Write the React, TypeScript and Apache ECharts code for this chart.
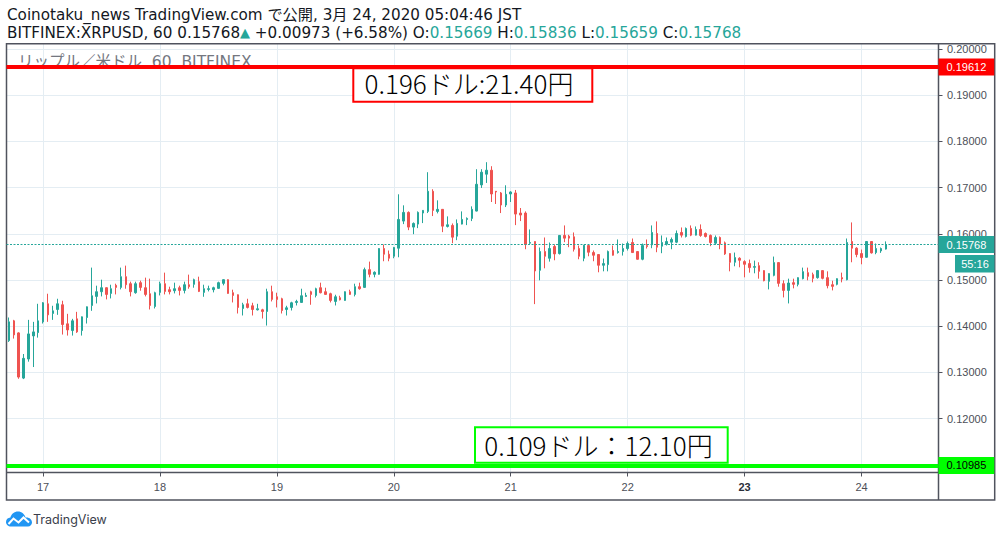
import React, { useEffect, useRef } from "react";
import * as echarts from "echarts";

// ---- data (hourly candles, BITFINEX:XRPUSD 60, Mar 16 17:00 .. Mar 24 05:00 JST) ----
const opens = [
  0.13688, 0.14116, 0.13855, 0.12877, 0.1329, 0.1379, 0.13862, 0.14094, 0.14485, 0.14275,
  0.14362, 0.14464, 0.14051, 0.13906, 0.14159, 0.13906, 0.14188, 0.14449, 0.14645, 0.14746,
  0.14833, 0.1471, 0.14884, 0.1484, 0.15072, 0.1492, 0.14725, 0.14942, 0.14833, 0.14703,
  0.14427, 0.14732, 0.1492, 0.1479, 0.14768, 0.14833, 0.14775, 0.14898, 0.14906, 0.14964,
  0.14732, 0.14797, 0.1479, 0.14819, 0.14927, 0.15007, 0.14725, 0.14681, 0.14384, 0.14485,
  0.14442, 0.14355, 0.14355, 0.14319, 0.14746, 0.14637, 0.14594, 0.14362, 0.14406, 0.14514,
  0.14514, 0.14645, 0.14746, 0.14666, 0.14833, 0.14746, 0.14703, 0.14536, 0.14616, 0.14558,
  0.14746, 0.14688, 0.14855, 0.1484, 0.15224, 0.15123, 0.15123, 0.15681, 0.15558, 0.15514,
  0.15688, 0.16275, 0.16463, 0.16145, 0.1621, 0.16449, 0.16485, 0.1692, 0.16485, 0.16529,
  0.16159, 0.16181, 0.15949, 0.1621, 0.16311, 0.16333, 0.16492, 0.17058, 0.1729, 0.17376,
  0.1692, 0.16884, 0.16623, 0.16862, 0.16884, 0.16449, 0.16449, 0.15797, 0.15833, 0.1521,
  0.15616, 0.15471, 0.15724, 0.15572, 0.15964, 0.15949, 0.15935, 0.15681, 0.15471, 0.15746,
  0.15594, 0.15551, 0.15319, 0.15333, 0.15638, 0.15594, 0.15616, 0.15681, 0.15811, 0.15616,
  0.15449, 0.15746, 0.15761, 0.16007, 0.15732, 0.15775, 0.15819, 0.15819, 0.16029, 0.15942,
  0.16116, 0.15971, 0.16094, 0.16007, 0.15964, 0.15797, 0.1592, 0.15804, 0.15572, 0.15384,
  0.15471, 0.15398, 0.15355, 0.15275, 0.15311, 0.15203, 0.14971, 0.15101, 0.15377, 0.1492,
  0.14775, 0.14942, 0.14906, 0.15029, 0.15159, 0.15116, 0.15051, 0.15203, 0.15051, 0.14898,
  0.14906, 0.15051, 0.15007, 0.15833, 0.15688, 0.15572, 0.15492, 0.15833, 0.15594, 0.1563,
  0.15669,
];
const closes = [
  0.14094, 0.13812, 0.12899, 0.13304, 0.13833, 0.13877, 0.14116, 0.14507, 0.14246, 0.14333,
  0.14485, 0.14036, 0.1392, 0.14116, 0.13877, 0.14203, 0.1442, 0.14659, 0.14746, 0.14833,
  0.14688, 0.14811, 0.1484, 0.15072, 0.14898, 0.14746, 0.1492, 0.1484, 0.14688, 0.14449,
  0.14725, 0.1492, 0.14753, 0.14746, 0.14811, 0.14775, 0.14898, 0.14855, 0.15007, 0.14753,
  0.14811, 0.14811, 0.14833, 0.14942, 0.15007, 0.1471, 0.14666, 0.14406, 0.14464, 0.14406,
  0.14362, 0.14377, 0.14319, 0.14746, 0.1458, 0.1458, 0.1434, 0.14398, 0.14507, 0.14536,
  0.14659, 0.14666, 0.14688, 0.14811, 0.14725, 0.14688, 0.14558, 0.14637, 0.14572, 0.14746,
  0.14688, 0.14855, 0.14811, 0.15224, 0.15123, 0.15167, 0.15681, 0.15558, 0.15471, 0.15703,
  0.16311, 0.16463, 0.16145, 0.16224, 0.16463, 0.16507, 0.1692, 0.16507, 0.16529, 0.16166,
  0.16195, 0.15927, 0.16224, 0.16311, 0.16333, 0.16529, 0.17072, 0.17333, 0.17376, 0.16862,
  0.16905, 0.16623, 0.16855, 0.16905, 0.16427, 0.16406, 0.15768, 0.15811, 0.15196, 0.15616,
  0.15514, 0.15681, 0.15565, 0.15964, 0.15906, 0.15906, 0.15666, 0.15514, 0.15753, 0.15601,
  0.15536, 0.15319, 0.15355, 0.15616, 0.15536, 0.15616, 0.15681, 0.1579, 0.15594, 0.15449,
  0.15746, 0.15724, 0.16029, 0.1571, 0.15811, 0.15833, 0.15877, 0.16007, 0.15971, 0.16116,
  0.15971, 0.16094, 0.15964, 0.15942, 0.15811, 0.1592, 0.15782, 0.15565, 0.15384, 0.15485,
  0.15427, 0.1534, 0.15268, 0.1529, 0.15188, 0.14985, 0.15138, 0.15377, 0.14927, 0.14775,
  0.14935, 0.14906, 0.15051, 0.15181, 0.1508, 0.15036, 0.15203, 0.15036, 0.14877, 0.14862,
  0.15029, 0.15022, 0.15811, 0.15688, 0.15551, 0.15485, 0.15833, 0.15587, 0.15681, 0.15681,
  0.15768,
];
const lows = [
  0.13659, 0.13732, 0.12862, 0.12855, 0.13232, 0.13116, 0.13753, 0.14058, 0.14094, 0.14137,
  0.14246, 0.13819, 0.13797, 0.13797, 0.13855, 0.13797, 0.14058, 0.14333, 0.14493, 0.14645,
  0.1458, 0.14601, 0.14688, 0.14797, 0.14811, 0.14645, 0.14703, 0.14768, 0.14645, 0.14362,
  0.14384, 0.14666, 0.14688, 0.14688, 0.1471, 0.14666, 0.1471, 0.14811, 0.14833, 0.14739,
  0.14637, 0.14753, 0.14732, 0.14811, 0.14884, 0.14703, 0.14514, 0.14275, 0.14232, 0.14384,
  0.14232, 0.1434, 0.14166, 0.14014, 0.14536, 0.14406, 0.14275, 0.14232, 0.1434, 0.14449,
  0.14507, 0.14637, 0.14464, 0.14623, 0.1471, 0.14681, 0.14514, 0.14449, 0.14558, 0.14551,
  0.14681, 0.14645, 0.1479, 0.14833, 0.15058, 0.15058, 0.15116, 0.15406, 0.15406, 0.15471,
  0.15492, 0.1621, 0.16079, 0.15992, 0.16123, 0.16232, 0.16449, 0.16384, 0.16442, 0.16036,
  0.16137, 0.15797, 0.15862, 0.16203, 0.16188, 0.16275, 0.16485, 0.16992, 0.17101, 0.16688,
  0.16645, 0.16449, 0.16579, 0.16688, 0.16188, 0.16275, 0.15666, 0.15782, 0.14478, 0.14993,
  0.15253, 0.15398, 0.15427, 0.15551, 0.15819, 0.1571, 0.15616, 0.15449, 0.15406, 0.15514,
  0.15406, 0.15167, 0.15188, 0.15188, 0.15529, 0.15572, 0.15529, 0.15638, 0.15587, 0.15442,
  0.15427, 0.15681, 0.15688, 0.15601, 0.1558, 0.15746, 0.15666, 0.15797, 0.1592, 0.1592,
  0.15949, 0.15964, 0.15935, 0.1592, 0.15732, 0.15761, 0.15666, 0.15543, 0.15188, 0.15297,
  0.15275, 0.15058, 0.15159, 0.15145, 0.15029, 0.14971, 0.14797, 0.1508, 0.14855, 0.14623,
  0.14493, 0.14819, 0.14862, 0.15014, 0.14993, 0.14949, 0.15029, 0.15014, 0.14819, 0.14775,
  0.14884, 0.14949, 0.14993, 0.15384, 0.15492, 0.1534, 0.15485, 0.15572, 0.15558, 0.15587,
  0.15659,
];
const highs = [
  0.14188, 0.14137, 0.13869, 0.13398, 0.14137, 0.14094, 0.14485, 0.14522, 0.14703, 0.14442,
  0.14594, 0.14551, 0.14268, 0.14159, 0.14311, 0.1421, 0.14427, 0.15268, 0.14877, 0.15007,
  0.1484, 0.14898, 0.1492, 0.15268, 0.15311, 0.14964, 0.14964, 0.14985, 0.15051, 0.15029,
  0.14746, 0.14964, 0.15159, 0.14855, 0.14942, 0.14877, 0.14964, 0.15116, 0.15029, 0.15072,
  0.14898, 0.14877, 0.14855, 0.14964, 0.15014, 0.15014, 0.1479, 0.14688, 0.14507, 0.14594,
  0.14507, 0.14485, 0.14377, 0.14811, 0.14877, 0.14725, 0.14616, 0.14442, 0.14529, 0.14572,
  0.14811, 0.14725, 0.14768, 0.14833, 0.14942, 0.14833, 0.14725, 0.14681, 0.14659, 0.14753,
  0.1479, 0.1492, 0.14942, 0.15268, 0.15398, 0.15188, 0.15688, 0.15768, 0.15638, 0.15717,
  0.16855, 0.16616, 0.16485, 0.16246, 0.16485, 0.16514, 0.17333, 0.16964, 0.16724, 0.16536,
  0.16377, 0.16224, 0.16311, 0.16485, 0.16355, 0.16594, 0.17398, 0.17398, 0.1755, 0.17463,
  0.16927, 0.16905, 0.1705, 0.1692, 0.16949, 0.16558, 0.16485, 0.16094, 0.1584, 0.15703,
  0.1592, 0.15811, 0.15768, 0.15971, 0.16181, 0.15978, 0.16029, 0.15746, 0.15761, 0.15753,
  0.15638, 0.15558, 0.15464, 0.15638, 0.15746, 0.15877, 0.1579, 0.15833, 0.15898, 0.15623,
  0.1579, 0.15877, 0.16181, 0.16268, 0.15964, 0.1592, 0.1592, 0.16072, 0.16137, 0.16137,
  0.16181, 0.16159, 0.16203, 0.16029, 0.15985, 0.15964, 0.15942, 0.15833, 0.1558, 0.15594,
  0.15492, 0.15427, 0.15442, 0.1542, 0.15384, 0.1521, 0.15145, 0.15507, 0.15384, 0.14993,
  0.15029, 0.15029, 0.15058, 0.15268, 0.15268, 0.15159, 0.1521, 0.1521, 0.15188, 0.14985,
  0.15036, 0.15159, 0.15898, 0.16246, 0.1571, 0.15659, 0.1584, 0.1584, 0.1579, 0.15703,
  0.15836,
];

const dayLabels = ["17", "18", "19", "20", "21", "22", "23", "24"];
const dayStartCandle = [7, 31, 55, 79, 103, 127, 151, 175];
const weekStartDay = "23";
const priceGridLevels = [0.11, 0.12, 0.13, 0.14, 0.15, 0.16, 0.17, 0.18, 0.19, 0.2];
const priceTickLabels = [0.12, 0.13, 0.14, 0.15, 0.16, 0.17, 0.18, 0.19, 0.2];
const resistanceLevel = 0.19612;
const supportLevel = 0.10985;
const resistanceNote = "0.196ドル:21.40円";
const supportNote = "0.109ドル：12.10円";
const countdownText = "55:16";
const publishLine = "Coinotaku_news TradingView.com で公開, 3月 24, 2020 05:04:46 JST";
const symbolText = "BITFINEX:XRPUSD, 60";
const changeText = "+0.00973 (+6.58%)";
const paneTitle = "リップル／米ドル, 60, BITFINEX";
const brandText = "TradingView";

// ---- layout / style ----
const W = 1002;
const H = 537;
const PLOT_L = 6.5;
const PLOT_R = 938.5;
const PLOT_T = 44;
const PLOT_B = 472.5;
const FRAME_R = 994.7;
const FRAME_B = 500;
const X_MIN = -0.5;
const X_MAX = 190.8;
const Y_MIN = 0.108333;
const Y_MAX = 0.201082;

const UP = "#26a69a";
const DOWN = "#ef5350";
const RED = "#ff0000";
const LIME = "#00ff00";
const GRID = "#e4edf3";
const FRAME = "#50535e";
const AXIS_TEXT = "#4c4f58";
const FONT_UI = '"DejaVu Sans", "Noto Sans CJK JP", sans-serif';
const FONT_BRAND = 'Inter, "Noto Sans CJK JP", sans-serif';
const FONT_AXIS = '"Liberation Sans", Arial, sans-serif';
const FONT_NOTE = '"Noto Sans CJK JP", sans-serif';

const LOGO_D =
  "M5 15C2.2 15 0 12.9 0 10.4C0 8 1.9 6.1 4.4 6C5.2 2.6 8.3 0 12 0C15.7 0 18.8 2.6 19.5 6.1C19.9 6 20.3 6 20.7 6C23.6 6 26 8.3 26 11C26 13.2 24.2 15 22 15Z";
echarts.graphic.registerShape("tvLogo", echarts.graphic.extendPath(LOGO_D, {}));

const last = closes.length - 1;
const lastPrice = closes[last];

function buildOption(): any {
  const labelBase = {
    show: true,
    position: "end",
    distance: 0,
    fontSize: 11,
    fontFamily: FONT_AXIS,
    lineHeight: 12,
    padding: [3, 8, 2, 8],
  };
  return {
    animation: false,
    backgroundColor: "#ffffff",
    textStyle: { fontFamily: FONT_AXIS },
    grid: {
      left: PLOT_L,
      right: W - PLOT_R,
      top: PLOT_T,
      bottom: H - PLOT_B,
      containLabel: false,
      outerBoundsMode: "none",
    },
    xAxis: {
      type: "value",
      min: X_MIN,
      max: X_MAX,
      axisLine: { show: false, onZero: false },
      axisTick: {
        show: true,
        customValues: dayStartCandle,
        length: 4,
        lineStyle: { color: FRAME, width: 1 },
      },
      axisLabel: {
        customValues: dayStartCandle,
        margin: 9,
        fontSize: 11,
        color: AXIS_TEXT,
        fontFamily: FONT_AXIS,
        formatter: (v: number) => {
          const t = dayLabels[dayStartCandle.indexOf(v)] ?? "";
          return t === weekStartDay ? `{b|${t}}` : t;
        },
        rich: { b: { fontWeight: "bold", fontSize: 11, color: "#2a2e39", fontFamily: FONT_AXIS } },
      },
      splitLine: { show: true, lineStyle: { color: GRID, width: 1 } },
    },
    yAxis: {
      type: "value",
      position: "right",
      min: Y_MIN,
      max: Y_MAX,
      axisLine: { show: false, onZero: false },
      axisTick: {
        show: true,
        customValues: priceGridLevels,
        length: 4,
        lineStyle: { color: FRAME, width: 1 },
      },
      axisLabel: {
        customValues: priceTickLabels,
        margin: 8.5,
        fontSize: 11,
        color: AXIS_TEXT,
        fontFamily: FONT_AXIS,
        formatter: (v: number) => v.toFixed(5),
      },
      splitLine: { show: true, lineStyle: { color: GRID, width: 1 } },
    },
    series: [
      {
        type: "candlestick",
        data: opens.map((o, i) => [i, o, closes[i], lows[i], highs[i]]),
        encode: { x: 0, y: [1, 2, 3, 4] },
        barWidth: 2,
        clip: false,
        itemStyle: {
          color: UP,
          color0: DOWN,
          borderColor: UP,
          borderColor0: DOWN,
          borderWidth: 1,
        },
        markLine: {
          silent: true,
          animation: false,
          precision: 5,
          symbol: ["none", "none"],
          data: [
            {
              yAxis: resistanceLevel,
              lineStyle: { color: RED, width: 4, type: "solid" },
              label: { ...labelBase, formatter: resistanceLevel.toFixed(5), color: "#ffffff", backgroundColor: RED },
            },
            {
              yAxis: lastPrice,
              lineStyle: { color: UP, width: 1, type: [2, 1.5] },
              label: { ...labelBase, formatter: lastPrice.toFixed(5), color: "#ffffff", backgroundColor: UP },
            },
            {
              yAxis: supportLevel,
              lineStyle: { color: LIME, width: 4, type: "solid" },
              label: { ...labelBase, formatter: supportLevel.toFixed(5), color: "#000000", backgroundColor: LIME },
            },
          ],
        },
      },
    ],
  };
}

function buildGraphics(yRes: number, ySup: number, yLast: number): any[] {
  const o = opens[last].toFixed(5);
  const h = highs[last].toFixed(5);
  const l = lows[last].toFixed(5);
  const c = closes[last].toFixed(5);
  const FS = 15.2;
  const tk = { fill: "#131722", fontSize: FS, fontFamily: FONT_UI, lineHeight: 15 };
  const tv = { fill: UP, fontSize: FS, fontFamily: FONT_UI, lineHeight: 15 };
  return [
    // header
    {
      type: "text",
      x: 7,
      y: 14.5,
      silent: true,
      style: {
        text: publishLine,
        fill: "#131722",
        fontSize: FS,
        lineHeight: 15,
        fontFamily: FONT_UI,
        verticalAlign: "middle",
      },
    },
    {
      type: "text",
      x: 7,
      y: 32.5,
      silent: true,
      style: {
        text:
          `{k|${symbolText} ${c}}{u|▲}{k| ${changeText} O:}{v|${o}}` +
          `{k| H:}{v|${h}}{k| L:}{v|${l}}{k| C:}{v|${c}}`,
        fontSize: FS,
        lineHeight: 15,
        fontFamily: FONT_UI,
        verticalAlign: "middle",
        rich: { k: tk, v: tv, u: { fill: UP, fontSize: 13, lineHeight: 15, fontFamily: FONT_UI } },
      },
    },
    // pane title
    {
      type: "text",
      x: 18,
      y: 62,
      z: 1,
      silent: true,
      style: { text: paneTitle, fill: "#74777f", fontSize: 15.5, fontFamily: FONT_UI, verticalAlign: "middle" },
    },
    // frame
    {
      type: "rect",
      z: 3,
      silent: true,
      shape: { x: PLOT_L, y: PLOT_T - 0.3, width: FRAME_R - PLOT_L, height: FRAME_B - PLOT_T + 0.3 },
      style: { fill: "none", stroke: FRAME, lineWidth: 1.5 },
    },
    {
      type: "line",
      z: 3,
      silent: true,
      shape: { x1: PLOT_L, y1: PLOT_B, x2: FRAME_R, y2: PLOT_B },
      style: { stroke: FRAME, lineWidth: 1.5 },
    },
    {
      type: "line",
      z: 3,
      silent: true,
      shape: { x1: PLOT_R, y1: PLOT_T, x2: PLOT_R, y2: FRAME_B },
      style: { stroke: FRAME, lineWidth: 1.5 },
    },
    // resistance note
    {
      type: "rect",
      z: 10,
      silent: true,
      shape: { x: 353.3, y: yRes + 1.4, width: 239, height: 33.4 },
      style: { fill: "#ffffff", stroke: RED, lineWidth: 2 },
    },
    {
      type: "text",
      z: 11,
      silent: true,
      x: 469,
      y: yRes + 16,
      style: {
        text: resistanceNote,
        fill: "#000000",
        fontSize: 26,
        fontWeight: 300,
        fontFamily: FONT_NOTE,
        align: "center",
        verticalAlign: "middle",
      },
    },
    // support note
    {
      type: "rect",
      z: 10,
      silent: true,
      shape: { x: 475, y: ySup - 38.2, width: 252.7, height: 35.4 },
      style: { fill: "#ffffff", stroke: LIME, lineWidth: 2 },
    },
    {
      type: "text",
      z: 11,
      silent: true,
      x: 598.5,
      y: ySup - 20.8,
      style: {
        text: supportNote,
        fill: "#000000",
        fontSize: 26,
        fontWeight: 300,
        fontFamily: FONT_NOTE,
        align: "center",
        verticalAlign: "middle",
      },
    },
    // countdown
    {
      type: "rect",
      z: 10,
      silent: true,
      shape: { x: 955, y: yLast + 10.5, width: 39.5, height: 17.5 },
      style: { fill: UP },
    },
    {
      type: "text",
      z: 11,
      silent: true,
      x: 975,
      y: yLast + 19.3,
      style: { text: countdownText, fill: "#ffffff", fontSize: 11, fontFamily: FONT_AXIS, align: "center", verticalAlign: "middle" },
    },
    // brand
    {
      type: "tvLogo",
      x: 6,
      y: 511.5,
      silent: true,
      style: { fill: "#2196f3" },
    },
    {
      type: "polyline",
      silent: true,
      z: 1,
      shape: { points: [[8.5, 524], [13.5, 518.5], [18.5, 522.5], [23.5, 517.5], [29, 522.5]] },
      style: { stroke: "#ffffff", lineWidth: 2, fill: "none" },
    },
    {
      type: "text",
      x: 33,
      y: 519,
      silent: true,
      style: { text: brandText, fill: "#3a3e4b", fontSize: 12.5, fontFamily: FONT_BRAND, verticalAlign: "middle" },
    },
  ];
}

export default function App() {
  const ref = useRef<HTMLDivElement>(null);
  useEffect(() => {
    const el = ref.current;
    if (!el) return;
    const chart = echarts.init(el, null, { renderer: "svg" });
    chart.setOption(buildOption());
    const toY = (v: number) => chart.convertToPixel({ yAxisIndex: 0 }, v) as number;
    chart.setOption({
      graphic: { elements: buildGraphics(toY(resistanceLevel), toY(supportLevel), toY(lastPrice)) },
    });
    return () => chart.dispose();
  }, []);
  return (
    <div
      ref={ref}
      style={{ position: "fixed", left: 0, top: 0, width: W, height: H, background: "#ffffff" }}
    />
  );
}
